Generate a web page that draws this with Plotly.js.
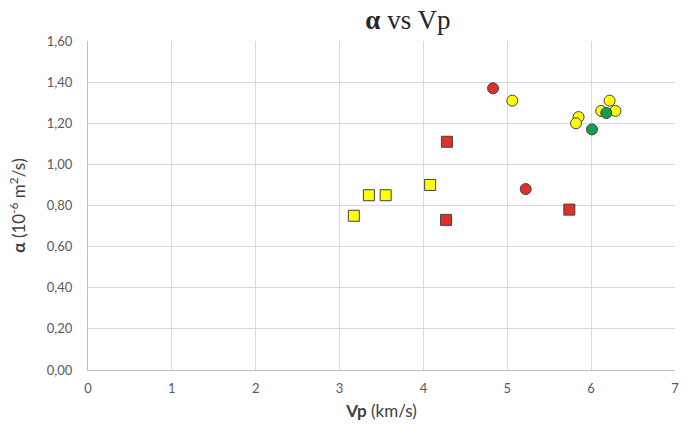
<!DOCTYPE html>
<html>
<head>
<meta charset="utf-8">
<script src="https://cdn.plot.ly/plotly-3.0.1.min.js"></script>
<style>
  html, body { margin: 0; padding: 0; background: #fff; }
  #chart { width: 681px; height: 427px; }
</style>
</head>
<body>
<div id="chart"></div>
<script>
// Thermal diffusivity vs P-wave velocity, grouped by sample set
const redCircleVp    = [4.83, 5.22];
const redCircleAlpha = [1.37, 0.88];

const redSquareVp    = [4.28, 4.27, 5.74];
const redSquareAlpha = [1.11, 0.73, 0.78];

const yellowCircleVp    = [5.06, 5.85, 5.82, 6.22, 6.12, 6.29];
const yellowCircleAlpha = [1.31, 1.23, 1.20, 1.31, 1.26, 1.26];

const yellowSquareVp    = [4.08, 3.35, 3.55, 3.17];
const yellowSquareAlpha = [0.90, 0.85, 0.85, 0.75];

const greenCircleVp    = [6.01, 6.18];
const greenCircleAlpha = [1.17, 1.25];

const xTicks = [0, 1, 2, 3, 4, 5, 6, 7];
const yTicks = [0, 0.2, 0.4, 0.6, 0.8, 1.0, 1.2, 1.4, 1.6];

const RED = '#E0302A', YELLOW = '#FFFF00', GREEN = '#12A04E';
const EDGE = {color: '#404040', width: 1};

function series(x, y, color, symbol) {
  return {
    type: 'scatter', mode: 'markers', x: x, y: y,
    marker: {color: color, symbol: symbol, size: 11, line: EDGE},
    hoverinfo: 'x+y', showlegend: false, cliponaxis: false
  };
}

const data = [
  series(yellowSquareVp, yellowSquareAlpha, YELLOW, 'square'),
  series(redSquareVp, redSquareAlpha, RED, 'square'),
  series(redCircleVp, redCircleAlpha, RED, 'circle'),
  series(yellowCircleVp, yellowCircleAlpha, YELLOW, 'circle'),
  series(greenCircleVp, greenCircleAlpha, GREEN, 'circle')
];

const tickFont = {family: 'Lato, "Open Sans", sans-serif', size: 13, color: '#595959'};
const axisTitleFont = {family: 'Lato, "Open Sans", sans-serif', size: 17, color: '#404040'};

const layout = {
  width: 681, height: 427,
  margin: {l: 88, r: 6, t: 41, b: 57},
  paper_bgcolor: '#fff', plot_bgcolor: '#fff',
  separators: ',.',
  title: {
    text: '<b>α</b> vs Vp',
    font: {family: '"Liberation Serif", "DejaVu Serif", serif', size: 27, color: '#262626'},
    x: 0.545, xref: 'paper', xanchor: 'center',
    y: 0.955, yref: 'container', yanchor: 'middle'
  },
  xaxis: {
    range: [0, 7], tickvals: xTicks, ticktext: xTicks.map(String),
    showgrid: true, gridcolor: '#D9D9D9', gridwidth: 1,
    showline: true, linecolor: '#BFBFBF', linewidth: 1,
    zeroline: false, ticks: '', ticklen: 0,
    tickfont: tickFont, automargin: false,
    ticklabelstandoff: 6, ticklabeloverflow: 'allow',
    title: {text: '<b>Vp</b> (km/s)', font: axisTitleFont, standoff: 10}
  },
  yaxis: {
    range: [0, 1.6], tickvals: yTicks, tickformat: '.2f',
    showgrid: true, gridcolor: '#D9D9D9', gridwidth: 1,
    showline: true, linecolor: '#BFBFBF', linewidth: 1,
    zeroline: false, ticks: '', ticklen: 0,
    tickfont: tickFont, automargin: false,
    ticklabelstandoff: 12, ticklabeloverflow: 'allow',
    title: {text: '<b>α</b> (10<sup>-6</sup> m<sup>2</sup>/s)', font: axisTitleFont, standoff: 16}
  }
};

Plotly.newPlot('chart', data, layout, {displayModeBar: false, staticPlot: true});
</script>
</body>
</html>
